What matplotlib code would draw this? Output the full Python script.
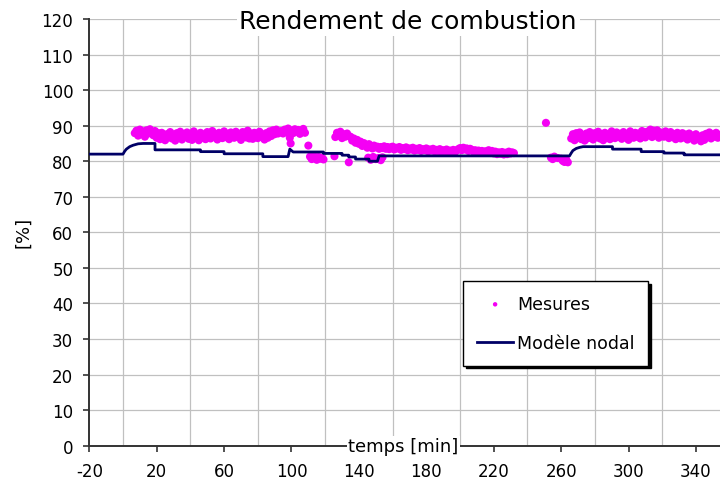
"""
Rendement de combustion: mesures vs modele nodal
"""

import numpy as np
import matplotlib
matplotlib.use('Agg')  # no display
import matplotlib.pyplot as plt
from matplotlib.ticker import FixedLocator, MultipleLocator

plt.rcParams['axes.unicode_minus'] = False  # plain hyphen like "-20"

# ---------------------------------------------------------------------------
# Data (time in min, efficiency in %)
# ---------------------------------------------------------------------------

# Modele nodal (step-like line)
model_t = [-20, 0, 1, 2, 4, 6, 9, 12, 19, 19,
           46, 46, 60, 60, 83, 83, 98, 99, 101, 119,
           119, 130, 130, 134, 134, 138, 138, 146, 146, 151,
           152, 265, 266, 267, 269, 271, 273, 290.5, 290.5, 307.5,
           307.5, 321, 321, 333, 333, 355]
model_v = [82.0, 82.0, 82.8, 83.4, 84.1, 84.5, 84.9, 85.0, 85.0, 83.2,
           83.2, 82.7, 82.7, 82.1, 82.1, 81.3, 81.3, 83.4, 82.6, 82.6,
           82.2, 82.2, 81.7, 81.7, 81.2, 81.2, 80.6, 80.6, 80.0, 80.0,
           81.5, 81.5, 82.3, 83.0, 83.6, 83.9, 84.1, 84.1, 83.4, 83.4,
           82.7, 82.7, 82.3, 82.3, 81.8, 81.8]

# Mesures, block 1: one sample per minute from t = 7
mes_a_start = 7
mes_a_v = [87.9, 88.6, 87.2, 88.9, 87.6, 88.4, 86.9, 88.7, 87.8, 89.0,
           88.1, 87.3, 88.5, 86.6, 87.9, 86.2, 88.0, 87.1, 85.9, 87.6,
           86.8, 88.2, 86.4, 87.5, 85.8, 87.9, 86.7, 88.3, 86.1, 87.4,
           86.9, 88.1, 86.3, 87.7, 86.0, 88.4, 86.8, 87.2, 85.9, 88.0,
           86.6, 87.5, 86.2, 88.2, 87.0, 86.4, 88.5, 86.9, 87.6, 86.1,
           88.0, 87.3, 86.5, 88.4, 86.8, 87.7, 86.2, 88.1, 87.0, 86.6,
           88.3, 86.9, 87.4, 86.0, 88.2, 87.1, 86.7, 88.6, 86.4, 87.8,
           86.3, 88.0, 87.2, 86.5, 88.3, 86.8, 87.5, 86.1, 87.9, 86.6,
           88.4, 87.1, 88.7, 87.6, 88.9, 87.8, 88.2]

# Mesures, scattered part between 94 and 154 min
mes_b_t = [94, 95, 96, 97, 98, 99, 99.5, 100, 101, 102,
           103, 104, 105, 106, 107, 108, 110,
           111, 112, 113, 114, 115, 116, 117, 118, 119,
           125.5, 126, 127, 128, 129, 130, 131, 132, 133, 134,
           135, 136, 137, 138, 139, 140, 141, 142, 143, 144,
           145, 146, 147, 148, 149, 150, 151, 152, 153,
           145.5, 147, 148.5, 150, 151.5, 153, 154]
mes_b_v = [88.5, 87.8, 88.9, 88.2, 89.2, 86.6, 85.0, 88.6, 87.9, 89.0,
           88.3, 88.8, 87.7, 88.5, 89.1, 88.0, 84.4,
           81.3, 80.6, 81.6, 80.9, 80.4, 81.2, 80.7, 81.0, 80.5,
           81.4, 86.8, 88.0, 87.2, 88.3, 86.5, 87.6, 86.9, 87.8, 79.7,
           86.9, 85.8, 86.4, 85.2, 86.0, 84.9, 85.5, 84.3, 85.1, 84.6,
           83.8, 84.8, 84.2, 83.6, 84.4, 83.9, 84.1, 83.5, 84.0,
           81.0, 80.4, 81.2, 80.6, 80.9, 80.3, 81.1]

# Mesures, block 2: one sample per minute from t = 154
mes_c_start = 154
mes_c_v = [83.7, 84.2, 83.5, 84.0, 83.4, 83.9, 84.1, 83.3, 83.8, 83.6,
           84.0, 83.2, 83.7, 83.4, 83.9, 83.1, 83.6, 83.3, 83.8, 83.0,
           83.5, 83.2, 83.7, 82.9, 83.4, 83.1, 83.6, 82.8, 83.3, 83.0,
           83.5, 82.8, 83.2, 82.9, 83.4, 82.7, 83.1, 82.9, 83.3, 82.6,
           83.0, 82.8, 83.2, 82.6, 83.0, 83.4, 83.7, 83.1, 83.8, 83.3,
           83.6, 82.9, 83.5, 83.2, 82.7, 83.1, 82.6, 83.0, 82.5, 82.9,
           82.4, 82.8, 82.6, 83.1, 82.5, 82.9, 82.2, 82.7, 82.0, 82.5,
           82.1, 82.6, 81.9, 82.4, 82.0, 82.7, 82.2, 82.5, 82.3]

# Mesures around the restart (~250-265 min)
mes_d_t = [251, 254, 255, 256, 258, 260, 261, 262, 263, 264]
mes_d_v = [90.8, 81.0, 80.6, 81.3, 80.9, 80.7, 80.1, 79.8, 80.5, 79.7]

# Mesures, block 3: one sample per minute from t = 266
mes_e_start = 266
mes_e_v = [86.4, 87.6, 85.9, 87.9, 86.7, 88.1, 86.2, 87.4, 85.8, 87.8,
           86.5, 88.2, 87.0, 86.1, 87.9, 86.8, 88.3, 86.4, 87.6, 85.9,
           88.0, 86.7, 87.3, 86.2, 88.4, 87.1, 86.5, 88.1, 86.9, 87.7,
           86.3, 88.2, 86.8, 87.5, 86.0, 88.4, 87.2, 86.6, 88.0, 86.9,
           87.8, 86.4, 88.5, 87.0, 86.7, 88.3, 87.5, 88.9, 86.8, 88.6,
           87.3, 88.7, 86.6, 88.1, 87.4, 86.9, 88.4, 87.0, 86.5, 88.2,
           86.8, 87.6, 86.2, 88.0, 87.1, 86.4, 87.9, 86.7, 87.5, 86.1,
           87.8, 86.5, 87.2, 85.8, 87.6, 86.3, 86.9, 85.6, 87.3, 86.0,
           87.7, 86.8, 88.1, 86.4, 87.5, 86.9, 88.0, 86.6, 87.4, 86.9]

x_ticks = [-20, 20, 60, 100, 140, 180, 220, 260, 300, 340]

# ---------------------------------------------------------------------------
# Assemble measurement series
# ---------------------------------------------------------------------------
mes_t = np.concatenate([
    mes_a_start + np.arange(len(mes_a_v)),
    np.array(mes_b_t),
    mes_c_start + np.arange(len(mes_c_v)),
    np.array(mes_d_t),
    mes_e_start + np.arange(len(mes_e_v)),
])
mes_v = np.concatenate([mes_a_v, mes_b_v, mes_c_v, mes_d_v, mes_e_v])

# ---------------------------------------------------------------------------
# Figure
# ---------------------------------------------------------------------------
text_color = '#000000'
axis_color = '#333333'
grid_color = '#c0c0c0'
mes_color = '#f400f4'
model_color = '#000066'

fig = plt.figure(figsize=(7.2, 4.89), dpi=100)
fig.patch.set_facecolor('white')
ax = fig.add_axes([0.124, 0.0865, 0.876, 0.8726])

sc = ax.scatter(mes_t, mes_v, s=34, color=mes_color, edgecolors='none',
                zorder=2, label='Mesures')
ln, = ax.plot(model_t, model_v, color=model_color, linewidth=2.0,
              zorder=3, label='Modèle nodal')

ax.set_xlim(-20, 354.3)
ax.set_ylim(0, 120)

# ticks: labels every 40 min, grid every 20 min
ax.xaxis.set_major_locator(FixedLocator(x_ticks))
ax.xaxis.set_minor_locator(MultipleLocator(20))
ax.yaxis.set_major_locator(MultipleLocator(10))
ax.tick_params(which='major', direction='out', length=4.5, width=1.2,
               color=axis_color, labelsize=12, labelcolor=text_color, pad=7)
ax.tick_params(which='minor', length=0)

ax.grid(True, which='minor', axis='x', color=grid_color, linewidth=0.9)
ax.grid(True, which='major', axis='y', color=grid_color, linewidth=0.9)
ax.set_axisbelow(True)

for side in ('top', 'right'):
    ax.spines[side].set_visible(False)
for side in ('left', 'bottom'):
    ax.spines[side].set_color(axis_color)
    ax.spines[side].set_linewidth(1.4)

# title sits on the top grid line with a white patch behind it
fig.text(408 / 720, 1 - 22 / 489, 'Rendement de combustion', ha='center',
         va='center', fontsize=18, color=text_color,
         bbox=dict(facecolor='white', edgecolor='none', pad=2))

# axis title sits on the x axis line
fig.text(403.5 / 720, 1 - 447 / 489, 'temps [min]', ha='center',
         va='center', fontsize=13, color=text_color,
         bbox=dict(facecolor='white', edgecolor='none', pad=1))

fig.text(23 / 720, 1 - 232 / 489, '[%]', rotation=90, ha='center',
         va='center', fontsize=13, color=text_color)

leg = ax.legend(handles=[sc, ln], loc='upper left',
                bbox_to_anchor=(463 / 720, 1 - 282 / 489),
                bbox_transform=fig.transFigure, borderaxespad=0,
                fontsize=12.5, frameon=True, fancybox=False,
                edgecolor='black', framealpha=1,
                shadow={'color': 'black', 'alpha': 1},
                borderpad=0.8, labelspacing=1.2, handlelength=2.1,
                handletextpad=0.2, markerscale=0.55)
leg.get_frame().set_linewidth(1.0)

fig.savefig('out.png', dpi=100, facecolor='white')
plt.close(fig)
